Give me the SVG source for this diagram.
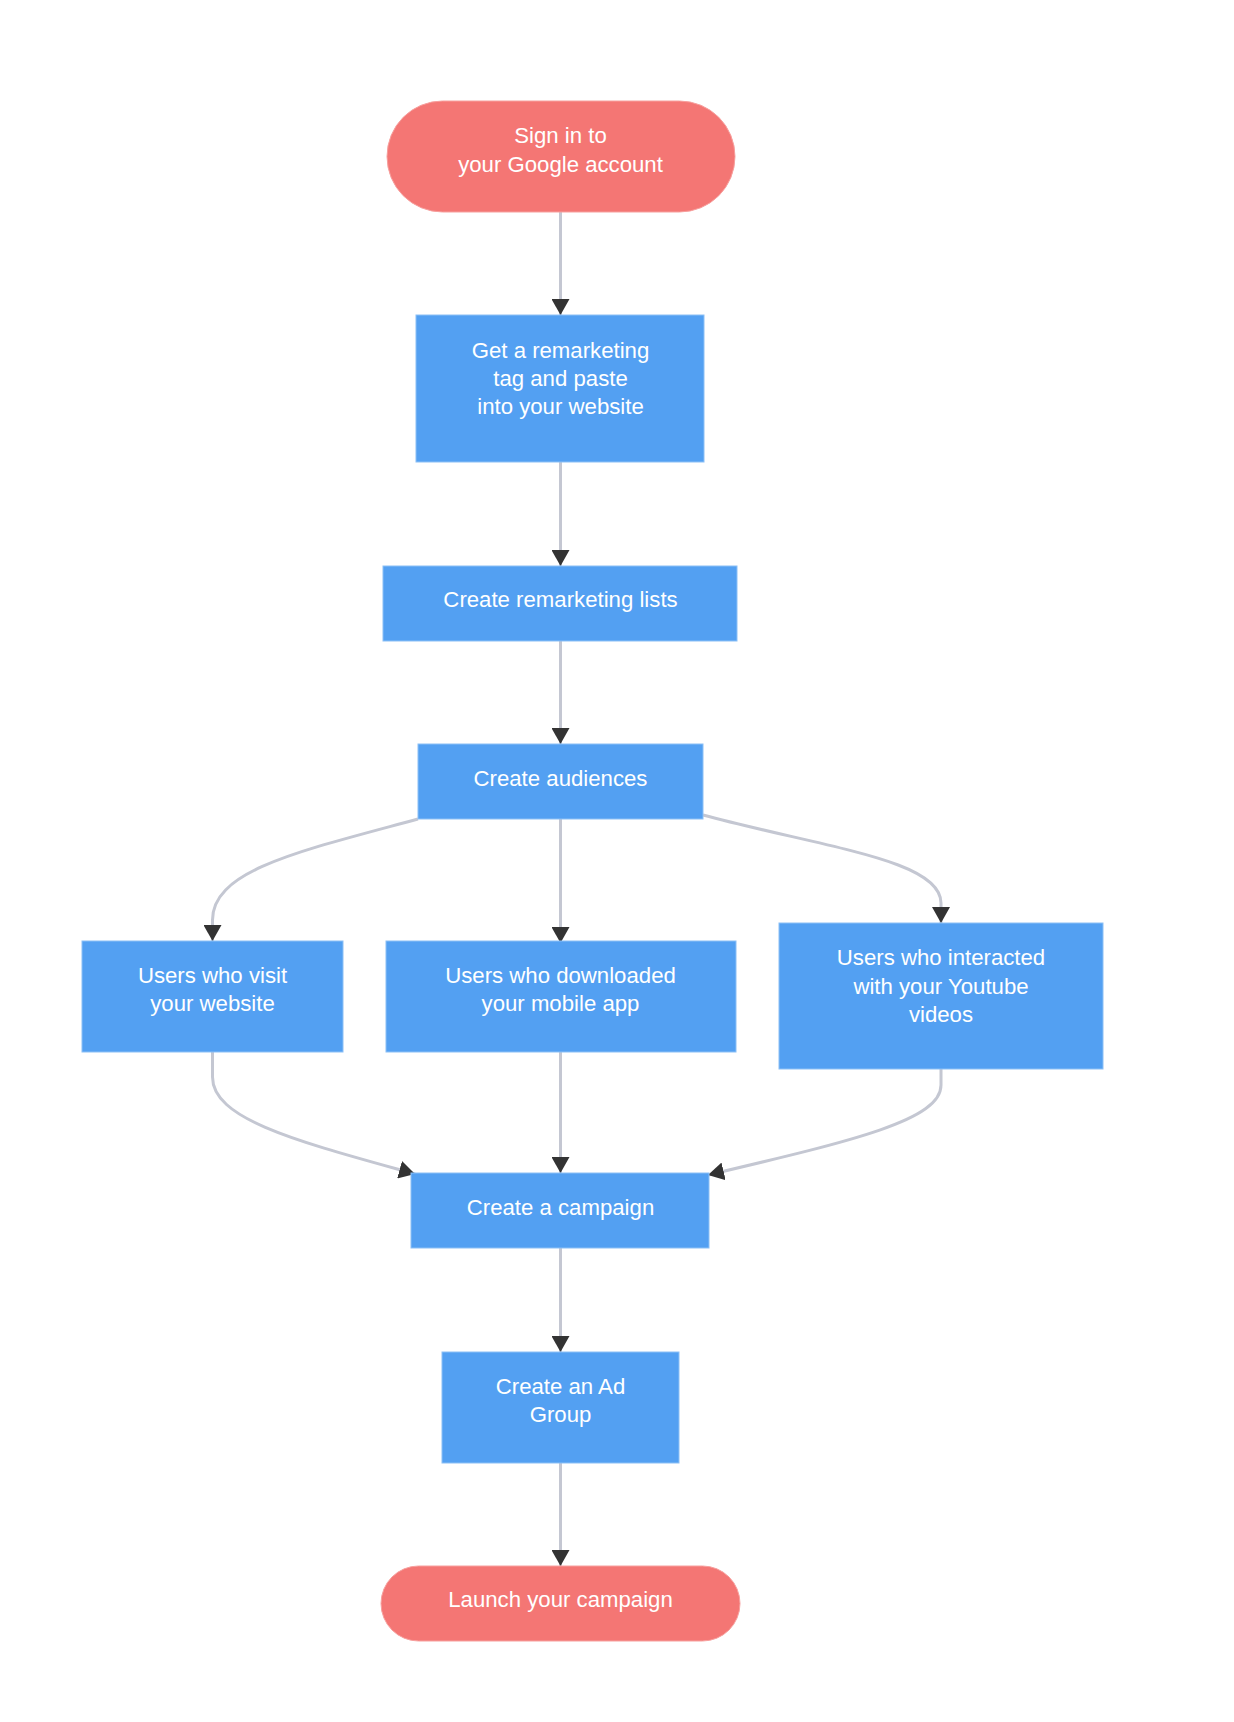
<svg xmlns="http://www.w3.org/2000/svg" width="1234" height="1722" viewBox="0 0 1234 1722">
<defs>
<style>
.box{fill:#53a0f2;stroke:#8cc0f6;stroke-width:1}
.term{fill:#f47674;stroke:#f7a09e;stroke-width:1}
.lbl{font-family:"Liberation Sans",Arial,sans-serif;font-size:22.2px;fill:#ffffff;text-anchor:middle}
.edge{fill:none;stroke:#c4c7d2;stroke-width:3}
</style>
<marker id="arrow" viewBox="0 0 16 18" refX="16" refY="9" markerWidth="16" markerHeight="18" markerUnits="userSpaceOnUse" orient="auto">
<path d="M0,0 L16,9 L0,18 z" fill="#333333"/>
</marker>
</defs>
<rect width="1234" height="1722" fill="#ffffff"/>
<g id="connectors">
<path class="edge" d="M560.5,212 V315" marker-end="url(#arrow)"/>
<path class="edge" d="M560.5,462 V566" marker-end="url(#arrow)"/>
<path class="edge" d="M560.5,641 V744" marker-end="url(#arrow)"/>
<path class="edge" d="M418,819 C300,851 212.5,870 212.5,920 V941" marker-end="url(#arrow)"/>
<path class="edge" d="M560.5,819 V943" marker-end="url(#arrow)"/>
<path class="edge" d="M703,815 C826,848 941,860 941,903 V923" marker-end="url(#arrow)"/>
<path class="edge" d="M212.5,1052 V1077 C212.5,1120 300,1142 415,1174" marker-end="url(#arrow)"/>
<path class="edge" d="M560.5,1052 V1173" marker-end="url(#arrow)"/>
<path class="edge" d="M941,1069 V1085 C941,1120 856,1140 708,1175" marker-end="url(#arrow)"/>
<path class="edge" d="M560.5,1248 V1352" marker-end="url(#arrow)"/>
<path class="edge" d="M560.5,1463 V1566" marker-end="url(#arrow)"/>
</g>
<g id="n-signin">
<rect class="term" x="387" y="101" width="348" height="111" rx="55.5" ry="55.5"/>
<text class="lbl" x="560.5" y="143">Sign in to</text>
<text class="lbl" x="560.5" y="172">your Google account</text>
</g>
<g id="n-tag">
<rect class="box" x="416" y="315" width="288" height="147"/>
<text class="lbl" x="560.5" y="357.5">Get a remarketing</text>
<text class="lbl" x="560.5" y="386">tag and paste</text>
<text class="lbl" x="560.5" y="414">into your website</text>
</g>
<g id="n-lists">
<rect class="box" x="383" y="566" width="354" height="75"/>
<text class="lbl" x="560.5" y="607">Create remarketing lists</text>
</g>
<g id="n-audiences">
<rect class="box" x="418" y="744" width="285" height="75"/>
<text class="lbl" x="560.5" y="786">Create audiences</text>
</g>
<g id="n-visit">
<rect class="box" x="82" y="941" width="261" height="111"/>
<text class="lbl" x="212.5" y="983">Users who visit</text>
<text class="lbl" x="212.5" y="1011">your website</text>
</g>
<g id="n-app">
<rect class="box" x="386" y="941" width="350" height="111"/>
<text class="lbl" x="560.5" y="983">Users who downloaded</text>
<text class="lbl" x="560.5" y="1011">your mobile app</text>
</g>
<g id="n-youtube">
<rect class="box" x="779" y="923" width="324" height="146"/>
<text class="lbl" x="941" y="965">Users who interacted</text>
<text class="lbl" x="941" y="993.5">with your Youtube</text>
<text class="lbl" x="941" y="1022">videos</text>
</g>
<g id="n-campaign">
<rect class="box" x="411" y="1173" width="298" height="75"/>
<text class="lbl" x="560.5" y="1215">Create a campaign</text>
</g>
<g id="n-adgroup">
<rect class="box" x="442" y="1352" width="237" height="111"/>
<text class="lbl" x="560.5" y="1394">Create an Ad</text>
<text class="lbl" x="560.5" y="1422">Group</text>
</g>
<g id="n-launch">
<rect class="term" x="381" y="1566" width="359" height="75" rx="37.5" ry="37.5"/>
<text class="lbl" x="560.5" y="1607">Launch your campaign</text>
</g>
</svg>
